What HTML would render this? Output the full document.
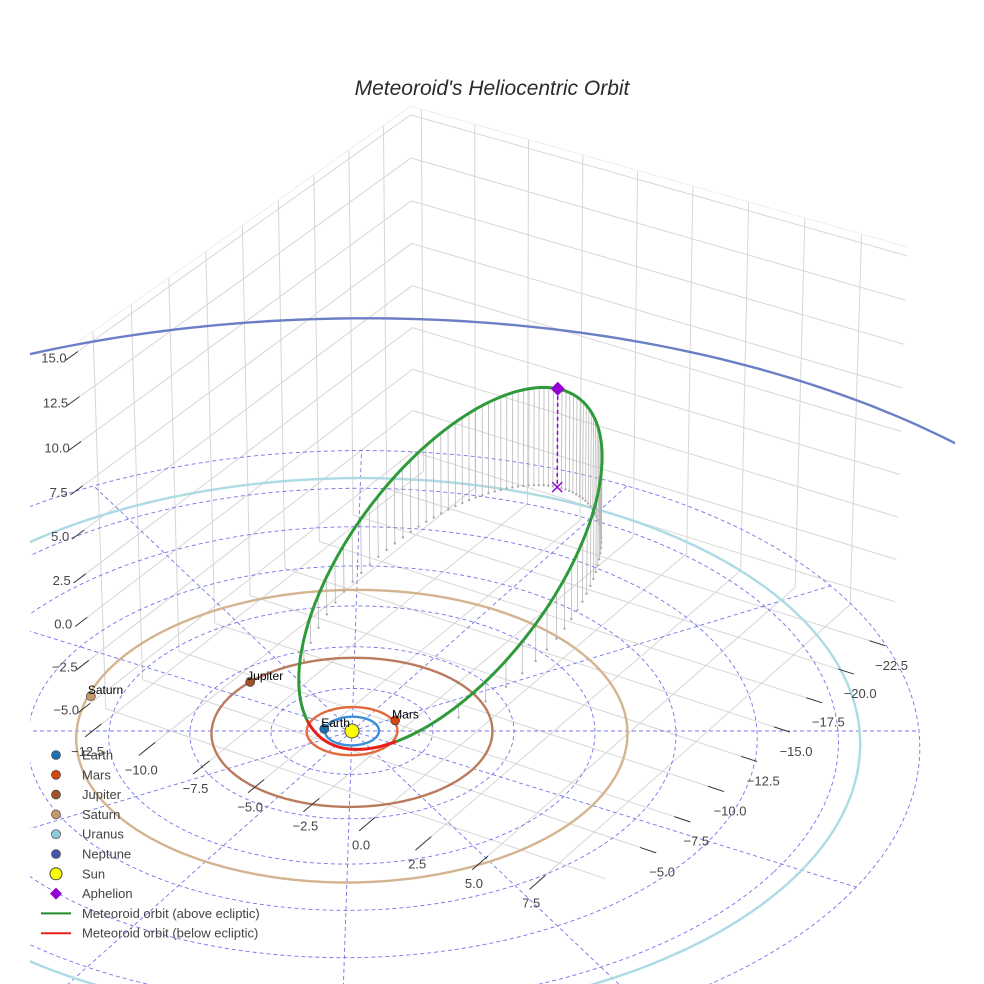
<!DOCTYPE html>
<html><head><meta charset="utf-8"><style>
html,body{margin:0;padding:0;background:#fff;overflow:hidden;}
svg{display:block;font-family:"Liberation Sans",sans-serif;}
</style></head><body>
<svg id="chart" width="984" height="984" viewBox="0 0 984 984" xmlns="http://www.w3.org/2000/svg">
<defs><clipPath id="scene"><rect x="30" y="95" width="925" height="889"/></clipPath></defs>
<rect x="0" y="0" width="984" height="984" fill="#fff"/>
<text x="492" y="95" text-anchor="middle" font-size="21" font-style="italic" fill="#2a2a2a">Meteoroid's Heliocentric Orbit</text>
<g id="scene-g" clip-path="url(#scene)"></g>
<g id="axes-g"></g>
<g id="legend"></g>
</svg>
<script>
// ---- data ----
const xTicks = [-12.5,-10,-7.5,-5,-2.5,0,2.5,5,7.5];
const yTicks = [-22.5,-20,-17.5,-15,-12.5,-10,-7.5,-5];
const zTicks = [-5,-2.5,0,2.5,5,7.5,10,12.5,15];
const boxRange = {x:[-13,9.5], y:[-24.5,-1.5], z:[-6,15.5]};
const planetNames = ["Earth","Mars","Jupiter","Saturn","Uranus","Neptune"];
const orbitRadii = [1.0,1.68,5.2,10.2,18.8,32];
const planetX = [-0.954,0.956,-5.124,-9.607,-12.2,31.55];
const planetY = [0.419,-1.470,-0.881,3.117,14.27,5.45];
const orbitColors = ["#3a8fd6","#e2693e","#b97b5e","#d4b48e","#acdbe4","#6b7fc6"];
const markerColors = ["#1f6fae","#d4460f","#a0522d","#c49a6c","#8ccbdc","#4455aa"];
const ringRadii = [3,6,9,12,15,18,21];
const radialAngles = [28,58,88,118,148,178,208,238,268,298,328,358];
// meteoroid orbital elements
const periQ = [0.95];
const aphQ = [20.5];
const inclDeg = [16.3];
const nodeDeg = [171.2];
const argPeriDeg = [270];

// ---- projection ----
const D=250,S=27,F=S*D,sT=0.5,cT=Math.sqrt(0.75),phi=-32*Math.PI/180,zs=0.77;
const cp=Math.cos(phi),sp=Math.sin(phi),cx=492,cy=492,a0=(492-352)/S,u0=(731-492)/S;
function P(x,y,z){const a=x*cp+y*sp,b=x*sp-y*cp,zz=z*zs;
 const r=a-a0,u=b*sT+zz*cT-u0,d=D+b*cT-zz*sT;return [cx+F*r/d,cy-F*u/d];}
const NS="http://www.w3.org/2000/svg";
function el(tag,attrs,parent){const e=document.createElementNS(NS,tag);for(const k in attrs)e.setAttribute(k,attrs[k]);parent.appendChild(e);return e;}
function pts(arr){return arr.map(p=>p[0].toFixed(1)+","+p[1].toFixed(1)).join(" ");}
const scene=document.getElementById('scene-g'),axes=document.getElementById('axes-g'),leg=document.getElementById('legend');
const [x0,x1]=boxRange.x,[y0,y1]=boxRange.y,[z0,z1]=boxRange.z;
function line3(p,q,stroke,w,parent,name,dash){const a=P(...p),b=P(...q);
 const l=el('line',{x1:a[0],y1:a[1],x2:b[0],y2:b[1],stroke:stroke,'stroke-width':w},parent);
 if(dash)l.setAttribute('stroke-dasharray',dash);
 
 return l;}
// box grid
const gc="#d6d6d6";
xTicks.forEach(x=>{line3([x,y0,z0],[x,y1,z0],gc,1,scene,'floor-gridline-x');line3([x,y0,z0],[x,y0,z1],gc,1,scene,'backwall-gridline-x');});
yTicks.concat([-2.5]).forEach(y=>{line3([x0,y,z0],[x1,y,z0],gc,1,scene,'floor-gridline-y');line3([x0,y,z0],[x0,y,z1],gc,1,scene,'sidewall-gridline-y');});
zTicks.forEach(z=>{line3([x0,y0,z],[x1,y0,z],gc,1,scene,'backwall-gridline-z');line3([x0,y0,z],[x0,y1,z],gc,1,scene,'sidewall-gridline-z');});
line3([x0,y0,z1],[x1,y0,z1],"#eee",1,scene,'box-edge');line3([x0,y0,z1],[x0,y1,z1],"#eee",1,scene,'box-edge');
// ecliptic dashed grid
const dc="#5c5ce6";
ringRadii.forEach(r=>{const p=[];for(let i=0;i<=180;i++){const t=i/180*2*Math.PI;p.push(P(r*Math.cos(t),r*Math.sin(t),0));}
 const e=el('polyline',{points:pts(p),fill:'none',stroke:dc,'stroke-width':0.9,'stroke-dasharray':'4,3',opacity:0.85},scene);
 
 });
const rMax=ringRadii[ringRadii.length-1];
radialAngles.forEach(ang=>{const t=ang*Math.PI/180;line3([0,0,0],[rMax*Math.cos(t),rMax*Math.sin(t),0],dc,0.9,scene,'ecliptic-radial-line','4,3').setAttribute('opacity',0.85);});
// planet orbits
orbitRadii.forEach((r,k)=>{const p=[];for(let i=0;i<=360;i++){const t=i/360*2*Math.PI;p.push(P(r*Math.cos(t),r*Math.sin(t),0));}
 const e=el('polyline',{points:pts(p),fill:'none',stroke:orbitColors[k],'stroke-width':2.4},scene);
 
 });
// meteoroid orbit
const q=periQ[0],Q=aphQ[0],ecc=(Q-q)/(Q+q),sma=(Q+q)/2,pp=sma*(1-ecc*ecc);
const inc=inclDeg[0]*Math.PI/180,Om=nodeDeg[0]*Math.PI/180,w=argPeriDeg[0]*Math.PI/180;
function orbPos(nu){const r=pp/(1+ecc*Math.cos(nu)),u=w+nu;
 return [r*(Math.cos(Om)*Math.cos(u)-Math.sin(Om)*Math.sin(u)*Math.cos(inc)),
         r*(Math.sin(Om)*Math.cos(u)+Math.cos(Om)*Math.sin(u)*Math.cos(inc)),
         r*Math.sin(u)*Math.sin(inc)];}
// drop lines sampled uniformly in mean anomaly
for(let i=0;i<80;i++){const M=i/80*2*Math.PI;let E=M;for(let j=0;j<50;j++)E=M+ecc*Math.sin(E);
 const nu=2*Math.atan2(Math.sqrt(1+ecc)*Math.sin(E/2),Math.sqrt(1-ecc)*Math.cos(E/2));
 const o=orbPos(nu);if(o[2]>0.15){line3(o,[o[0],o[1],0],"#b8b8b8",0.8,scene,'drop-line');
  const b=P(o[0],o[1],0);const c=el('circle',{cx:b[0],cy:b[1],r:1.2,fill:'#aaa'},scene);
  
  }}
let segs=[],cur=null,curUp=null;
for(let i=0;i<=720;i++){const nu=-Math.PI+i/720*2*Math.PI;const o=orbPos(nu);const up=o[2]>=0;const s=P(...o);
 if(up!==curUp){if(cur)cur.p.push(s);cur={up:up,p:[s]};segs.push(cur);curUp=up;}else cur.p.push(s);}
segs.forEach(sg=>{const e=el('polyline',{points:pts(sg.p),fill:'none',stroke:sg.up?'#2e9a3a':'#e8201c','stroke-width':3,'stroke-linejoin':'round'},scene);
 
 });
// aphelion
const A=orbPos(Math.PI),Ap=P(...A),A0=P(A[0],A[1],0);
const dl=el('line',{x1:Ap[0],y1:Ap[1],x2:A0[0],y2:A0[1],stroke:'#9400d3','stroke-width':1.5,'stroke-dasharray':'4,3'},scene);


const xm=el('path',{d:`M${A0[0]-5},${A0[1]-5}L${A0[0]+5},${A0[1]+5}M${A0[0]-5},${A0[1]+5}L${A0[0]+5},${A0[1]-5}`,stroke:'#9400d3','stroke-width':1.5},scene);


const dm=el('path',{d:`M${Ap[0]},${Ap[1]-7}L${Ap[0]+7},${Ap[1]}L${Ap[0]},${Ap[1]+7}L${Ap[0]-7},${Ap[1]}Z`,fill:'#9400d3'},scene);


// sun
const sp0=P(0,0,0);
const sun=el('circle',{cx:sp0[0],cy:sp0[1],r:7,fill:'#ffff00',stroke:'#555','stroke-width':1},scene);


// planets
planetNames.forEach((n,k)=>{const s=P(planetX[k],planetY[k],0);
 const c=el('circle',{cx:s[0],cy:s[1],r:4.5,fill:markerColors[k],stroke:'#333','stroke-width':0.6},scene);
 
 
 const t=el('text',{x:s[0]-3,y:s[1]-2,'font-size':12,fill:'#000'},scene);t.textContent=n;
 
 });
// axis ticks and labels
function fmt(v){return (v<0?'\u2212':'')+Math.abs(v).toFixed(1);}
xTicks.forEach(x=>{const a=P(x,y1,z0),b=P(x,y1+1.1,z0);
 const l=el('line',{x1:a[0],y1:a[1],x2:b[0],y2:b[1],stroke:'#333','stroke-width':1},axes);
 
 
 const t=el('text',{x:a[0]-14,y:a[1]+32,'text-anchor':'middle','font-size':13,fill:'#444'},axes);t.textContent=fmt(x);
 
 });
yTicks.forEach(y=>{const a=P(x1,y,z0),b=P(x1+0.7,y,z0);
 const l=el('line',{x1:a[0],y1:a[1],x2:b[0],y2:b[1],stroke:'#333','stroke-width':1},axes);
 
 
 const t=el('text',{x:a[0]+22,y:a[1]+29,'text-anchor':'middle','font-size':13,fill:'#444'},axes);t.textContent=fmt(y);
 
 });
zTicks.forEach(z=>{const a=P(x0,y1,z),b=P(x0,y1+0.8,z);
 const l=el('line',{x1:a[0],y1:a[1],x2:b[0],y2:b[1],stroke:'#333','stroke-width':1},axes);
 
 
 const t=el('text',{x:a[0]-24,y:a[1]+11,'text-anchor':'middle','font-size':13,fill:'#444'},axes);t.textContent=fmt(z);
 
 });
// legend
const legNames=["Earth","Mars","Jupiter","Saturn","Uranus","Neptune","Sun","Aphelion","Meteoroid orbit (above ecliptic)","Meteoroid orbit (below ecliptic)"];
legNames.forEach((n,i)=>{const y=755+i*19.8;let m;
 if(i<6){m=el('circle',{cx:56,cy:y,r:4.5,fill:markerColors[i],stroke:'#333','stroke-width':0.6},leg);}
 else if(i===6){m=el('circle',{cx:56,cy:y,r:6,fill:'#ffff00',stroke:'#444','stroke-width':1},leg);}
 else if(i===7){m=el('path',{d:`M56,${y-6}L62,${y}L56,${y+6}L50,${y}Z`,fill:'#9400d3'},leg);}
 else {m=el('line',{x1:41,y1:y,x2:71,y2:y,stroke:i===8?'#1e8a2a':'#e8201c','stroke-width':2},leg);}
 
 
 const t=el('text',{x:82,y:y+4.5,'font-size':13,fill:'#444'},leg);t.textContent=n;
 
 });
</script>
</body></html>
